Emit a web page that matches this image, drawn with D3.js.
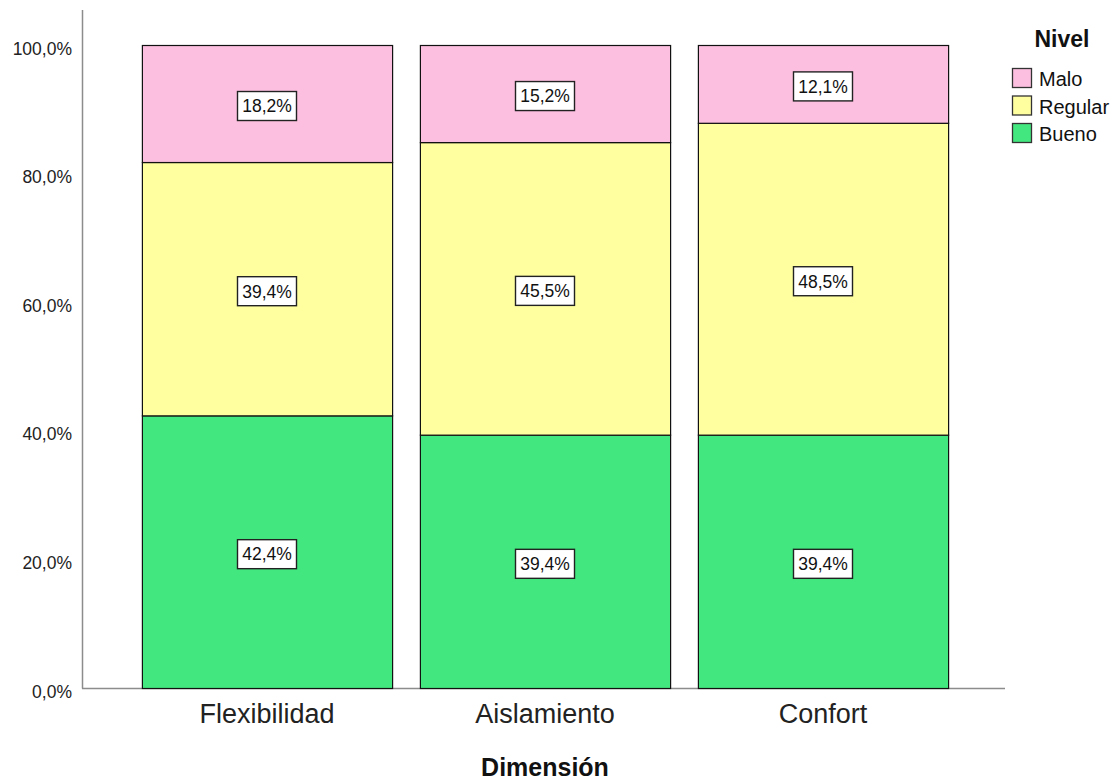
<!DOCTYPE html>
<html><head><meta charset="utf-8">
<script src="https://cdn.jsdelivr.net/npm/d3@7"></script>
<style>body{margin:0;background:#fff;}svg{display:block;font-family:Arial,"Liberation Sans",sans-serif;}</style>
</head><body>
<svg id="c" width="1115" height="780"></svg>
<script>
const categories = ["Flexibilidad", "Aislamiento", "Confort"];
const levels = ["Bueno", "Regular", "Malo"];
const bueno = [42.4, 39.4, 39.4];
const regular = [39.4, 45.5, 48.5];
const malo = [18.2, 15.2, 12.1];
const yTicks = [0, 20, 40, 60, 80, 100];
const legendOrder = ["Malo", "Regular", "Bueno"];
const colors = {Bueno: "#42e87f", Regular: "#ffffa0", Malo: "#fdbfdf"};

const rows = categories.map((c, i) => ({cat: c, Bueno: bueno[i], Regular: regular[i], Malo: malo[i]}));
const stack = d3.stack().keys(levels)(rows);

const svg = d3.select("#c");
const FONT = "Arial, 'Liberation Sans', sans-serif";
const x = d3.scaleBand().domain(categories).range([128, 962]).paddingInner(0.1).paddingOuter(0.05);
const y = d3.scaleLinear().domain([0, 100]).range([688, 45]);
const fmt = v => d3.format(".1f")(v).replace(".", ",") + "%";

// axes lines
svg.append("line").attr("x1", 82.5).attr("x2", 82.5).attr("y1", 10).attr("y2", 688.5).attr("stroke", "#8c8c8c").attr("stroke-width", 1.5);
svg.append("line").attr("x1", 82).attr("x2", 1005).attr("y1", 688.5).attr("y2", 688.5).attr("stroke", "#8c8c8c").attr("stroke-width", 1.5);

const yAxis = d3.axisLeft(y).tickValues(yTicks).tickSize(0).tickPadding(10).tickFormat(fmt);
const ya = svg.append("g").attr("transform", "translate(82,0)").call(yAxis);
ya.select(".domain").remove();
ya.selectAll("text").attr("font-size", 17.5).attr("fill", "#222").attr("font-family", FONT).attr("dy", "0.52em");

// bars
stack.forEach(layer => {
  const key = layer.key;
  layer.forEach((d, i) => {
    const top = Math.min(d[1], 100);
    svg.append("rect")
      .attr("x", x(categories[i]) + 0.5).attr("width", x.bandwidth())
      .attr("y", y(top) + 0.5).attr("height", y(d[0]) - y(top))
      .attr("fill", colors[key]).attr("stroke", "#111").attr("stroke-width", 1.2);
  });
});

// labels
stack.forEach(layer => {
  layer.forEach((d, i) => {
    const val = layer.key === "Bueno" ? bueno[i] : layer.key === "Regular" ? regular[i] : malo[i];
    const cx = x(categories[i]) + x.bandwidth() / 2;
    const cy = y((d[0] + Math.min(d[1], 100)) / 2) + 2.5;
    const g = svg.append("g").attr("transform", `translate(${cx},${cy})`);
    g.append("rect").attr("x", -29.5).attr("y", -14.5).attr("width", 59).attr("height", 29)
      .attr("fill", "#fff").attr("stroke", "#222").attr("stroke-width", 1.4);
    g.append("text").attr("text-anchor", "middle").attr("y", 6.3).attr("font-size", 17.5).attr("fill", "#111").text(fmt(val));
  });
});

// x axis labels
const xAxis = d3.axisBottom(x).tickSize(0).tickPadding(0);
const xa = svg.append("g").attr("transform", "translate(0,688)").call(xAxis);
xa.select(".domain").remove();
xa.selectAll("text").attr("font-size", 27).attr("fill", "#222").attr("font-family", FONT).attr("dy", null).attr("y", 35);

svg.append("text").attr("x", 545).attr("y", 776).attr("text-anchor", "middle").attr("font-size", 25).attr("font-weight", "bold").attr("fill", "#111").text("Dimensión");

// legend
svg.append("text").attr("x", 1062).attr("y", 47).attr("text-anchor", "middle").attr("font-size", 23).attr("font-weight", "bold").attr("fill", "#111").text("Nivel");
legendOrder.forEach((k, i) => {
  const ly = 68 + i * 27.5;
  svg.append("rect").attr("x", 1012.5).attr("y", ly + 0.5).attr("width", 19).attr("height", 19)
    .attr("fill", colors[k]).attr("stroke", "#333").attr("stroke-width", 1.3);
  svg.append("text").attr("x", 1039).attr("y", ly + 18).attr("font-size", 20).attr("fill", "#111").text(k);
});
</script>
</body></html>
